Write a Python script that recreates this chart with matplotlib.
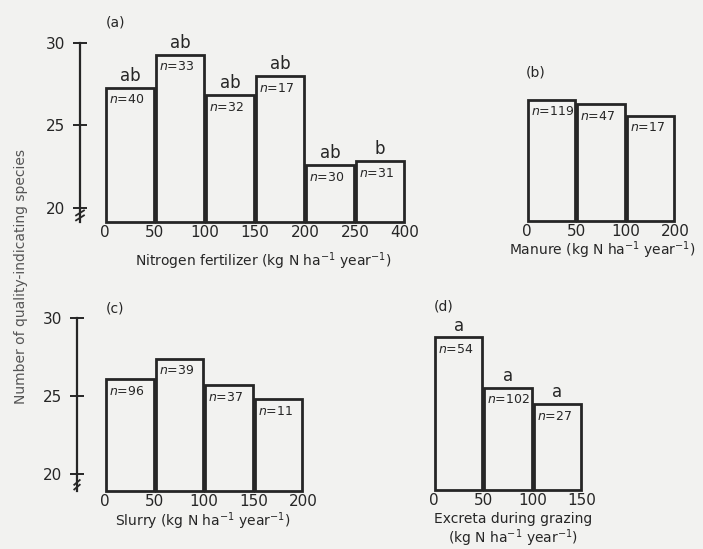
import matplotlib.pyplot as plt

# (a) nitrogen fertilizer
a_edges = ["0", "50", "100", "150", "200", "250", "400"]
a_means = [27.3, 29.3, 26.85, 28.0, 22.6, 22.85]
a_n = [40, 33, 32, 17, 30, 31]
a_letters = ["ab", "ab", "ab", "ab", "ab", "b"]

# (b) manure
b_edges = ["0", "50", "100", "200"]
b_means = [26.55, 26.3, 25.6]
b_n = [119, 47, 17]

# (c) slurry
c_edges = ["0", "50", "100", "150", "200"]
c_means = [26.1, 27.4, 25.7, 24.8]
c_n = [96, 39, 37, 11]

# (d) excreta during grazing
d_edges = ["0", "50", "100", "150"]
d_means = [28.75, 25.5, 24.45]
d_n = [54, 102, 27]
d_letters = ["a", "a", "a"]

W, H = 703, 549
INK = "#262626"
BG = "#f2f2f0"

plt.rcParams["font.family"] = "DejaVu Sans"
plt.rcParams["mathtext.fontset"] = "dejavusans"

fig = plt.figure(figsize=(W / 100, H / 100), dpi=100, facecolor=BG)


def make_axes(left, right, top, bottom, xlim, ylim):
    ax = fig.add_axes([left / W, 1 - bottom / H, (right - left) / W, (bottom - top) / H])
    ax.set_facecolor("none")
    ax.set_xlim(*xlim)
    ax.set_ylim(*ylim)
    for s in ["top", "right", "bottom"]:
        ax.spines[s].set_visible(False)
    return ax


def draw_bars(ax, edges, means, ns, base, letters=None):
    x = list(range(len(means)))
    heights = [m - base for m in means]
    ax.bar([i + 0.02 for i in x], heights, bottom=base, width=0.96, align="edge",
           facecolor="none", edgecolor=INK, linewidth=2.0, clip_on=False)
    for i, m in enumerate(means):
        ax.annotate(f"$n$={ns[i]}", xy=(i + 0.08, m), xytext=(0, -4),
                    textcoords="offset points", ha="left", va="top",
                    fontsize=9, color=INK)
        if letters:
            ax.annotate(letters[i], xy=(i + 0.5, m), xytext=(0, 2),
                        textcoords="offset points", ha="center", va="bottom",
                        fontsize=12, color=INK)
    ax.set_xticks(range(len(edges)))
    ax.set_xticklabels(edges, fontsize=11, color=INK)
    ax.tick_params(axis="x", length=0, pad=2)


def y_axis(ax, show):
    if not show:
        ax.spines["left"].set_visible(False)
        ax.set_yticks([])
        return
    ax.spines["left"].set_color(INK)
    ax.spines["left"].set_linewidth(1.6)
    ax.set_yticks([20, 25, 30])
    ax.tick_params(axis="y", direction="inout", length=10, width=1.4,
                   labelsize=11, labelcolor=INK, color=INK, pad=6)
    # axis break marks
    y0 = ax.get_ylim()[0]
    for dy in (0.25, 0.55):
        ax.plot([-0.012, 0.012], [y0 + dy - 0.15, y0 + dy + 0.15],
                transform=ax.get_yaxis_transform(), color=INK, lw=1.3, clip_on=False)


def label(x, y, text):
    fig.text(x / W, 1 - y / H, text, ha="center", va="center", fontsize=10, color=INK)


# top row
ax_a = make_axes(80, 408, 43, 222, (-0.5, 6.06), (19.15, 30))
draw_bars(ax_a, a_edges, a_means, a_n, 19.15, a_letters)
y_axis(ax_a, True)
label(263, 261, "Nitrogen fertilizer (kg N ha$^{-1}$ year$^{-1}$)")
fig.text(106 / W, 1 - 23 / H, "(a)", fontsize=10, color=INK, va="center")

ax_b = make_axes(527, 677, 43, 221, (0, 3.04), (19.2, 30))
draw_bars(ax_b, b_edges, b_means, b_n, 19.2)
y_axis(ax_b, False)
label(602, 250, "Manure (kg N ha$^{-1}$ year$^{-1}$)")
fig.text(526 / W, 1 - 73 / H, "(b)", fontsize=10, color=INK, va="center")

# bottom row
ax_c = make_axes(77, 305, 318, 491, (-0.57, 4.04), (18.93, 30))
draw_bars(ax_c, c_edges, c_means, c_n, 18.93)
y_axis(ax_c, True)
label(203, 521, "Slurry (kg N ha$^{-1}$ year$^{-1}$)")
fig.text(106 / W, 1 - 308 / H, "(c)", fontsize=10, color=INK, va="center")

ax_d = make_axes(434, 584, 318, 490, (0, 3.04), (18.93, 30))
draw_bars(ax_d, d_edges, d_means, d_n, 18.93, d_letters)
y_axis(ax_d, False)
label(513, 519, "Excreta during grazing")
label(513, 538, "(kg N ha$^{-1}$ year$^{-1}$)")
fig.text(434 / W, 1 - 307 / H, "(d)", fontsize=10, color=INK, va="center")

fig.text(21 / W, 1 - 277 / H, "Number of quality-indicating species", rotation=90,
         ha="center", va="center", fontsize=10, color="#555555")

fig.savefig("out.png", dpi=100, facecolor=BG)
